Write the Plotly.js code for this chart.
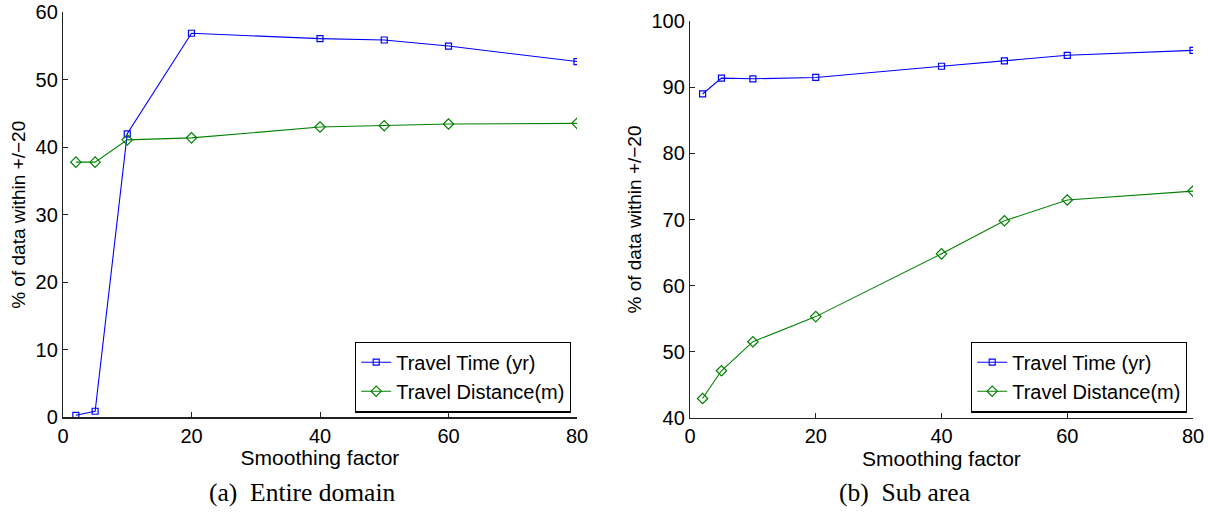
<!DOCTYPE html>
<html>
<head>
<meta charset="utf-8">
<script src="https://cdn.plot.ly/plotly-3.0.1.min.js"></script>
<style>html,body{margin:0;padding:0;background:#fff;}#plot{width:1208px;height:512px;}</style>
</head>
<body>
<div id="plot"></div>
<script>
// Data
const smoothing = [2, 5, 10, 20, 40, 50, 60, 80];
const entireTime = [0.3, 0.9, 42.0, 56.9, 56.1, 55.9, 55.0, 52.7];
const entireDist = [37.8, 37.8, 41.1, 41.4, 43.0, 43.2, 43.45, 43.55];
const subTime = [89.0, 91.4, 91.3, 91.5, 93.2, 94.0, 94.85, 95.6];
const subDist = [42.9, 47.1, 51.5, 55.3, 64.8, 69.8, 72.95, 74.3];
const seriesNames = ["Travel Time (yr)", "Travel Distance(m)"];
const xTicks = [0, 20, 40, 60, 80];
const yTicksA = [0, 10, 20, 30, 40, 50, 60];
const yTicksB = [40, 50, 60, 70, 80, 90, 100];
const captions = ["(a)  Entire domain", "(b)  Sub area"];

const W = 1208, H = 512;
const FONT = "Liberation Sans, Arial, sans-serif";
const blue = "#0000ff", green = "#008000";

function tr(x, y, name, color, symbol, size, xa, ya, legend) {
  return {
    x: x, y: y, name: name, type: "scatter", mode: "lines+markers",
    xaxis: xa, yaxis: ya, legend: legend,
    line: {color: color, width: 1.1},
    marker: {symbol: symbol, size: size, color: color, line: {color: color, width: 1.2}}
  };
}

const data = [
  tr(smoothing, entireTime, seriesNames[0], blue, "square-open", 6, "x", "y", "legend"),
  tr(smoothing, entireDist, seriesNames[1], green, "diamond-open", 8, "x", "y", "legend"),
  tr(smoothing, subTime, seriesNames[0], blue, "square-open", 6, "x2", "y2", "legend2"),
  tr(smoothing, subDist, seriesNames[1], green, "diamond-open", 8, "x2", "y2", "legend2")
];

function xax(domain, anchor) {
  return {
    domain: domain, anchor: anchor, range: [0, 80], tickvals: xTicks,
    ticks: "inside", ticklen: 5, tickcolor: "#222", tickwidth: 1,
    showline: true, linecolor: "#222", linewidth: 1.2, mirror: false,
    showgrid: false, zeroline: false, automargin: false,
    tickfont: {family: FONT, size: 20, color: "#000"},
    title: {text: "Smoothing factor", font: {family: FONT, size: 21, color: "#000"}, standoff: 0}
  };
}
function yax(domain, anchor, range, ticks) {
  return {
    domain: domain, anchor: anchor, range: range, tickvals: ticks,
    ticks: "inside", ticklen: 5, tickcolor: "#222", tickwidth: 1,
    showline: true, linecolor: "#222", linewidth: 1.2, mirror: false,
    showgrid: false, zeroline: false, automargin: false,
    tickfont: {family: FONT, size: 20, color: "#000"},
    title: {text: "% of data within +/\u221220", font: {family: FONT, size: 19, color: "#000"}, standoff: 4}
  };
}

const layout = {
  width: W, height: H,
  margin: {l: 0, r: 0, t: 0, b: 0},
  paper_bgcolor: "#fff", plot_bgcolor: "#fff",
  showlegend: true,
  xaxis: xax([63 / W, 577 / W], "y"),
  yaxis: yax([1 - 417.3 / H, 1 - 12.3 / H], "x", [0, 60], yTicksA),
  xaxis2: xax([690 / W, 1193 / W], "y2"),
  yaxis2: yax([1 - 417.7 / H, 1 - 21.3 / H], "x2", [40, 100], yTicksB),
  legend: {
    x: 571 / W, xanchor: "right", y: 1 - 412.5 / H, yanchor: "bottom",
    bordercolor: "#000", borderwidth: 1.2, bgcolor: "#fff",
    font: {family: FONT, size: 20, color: "#000"},
    tracegroupgap: 0, itemwidth: 30
  },
  legend2: {
    x: 1187 / W, xanchor: "right", y: 1 - 412.5 / H, yanchor: "bottom",
    bordercolor: "#000", borderwidth: 1.2, bgcolor: "#fff",
    font: {family: FONT, size: 20, color: "#000"},
    tracegroupgap: 0, itemwidth: 30
  },
  annotations: [
    {text: captions[0], x: 302 / W, y: 1 - 492 / H, xref: "paper", yref: "paper",
     showarrow: false, xanchor: "center", yanchor: "middle",
     font: {family: "Liberation Serif, serif", size: 25.5, color: "#000"}},
    {text: captions[1], x: 904 / W, y: 1 - 492 / H, xref: "paper", yref: "paper",
     showarrow: false, xanchor: "center", yanchor: "middle",
     font: {family: "Liberation Serif, serif", size: 25.5, color: "#000"}}
  ]
};

Plotly.newPlot("plot", data, layout, {staticPlot: true, displayModeBar: false});
</script>
</body>
</html>
